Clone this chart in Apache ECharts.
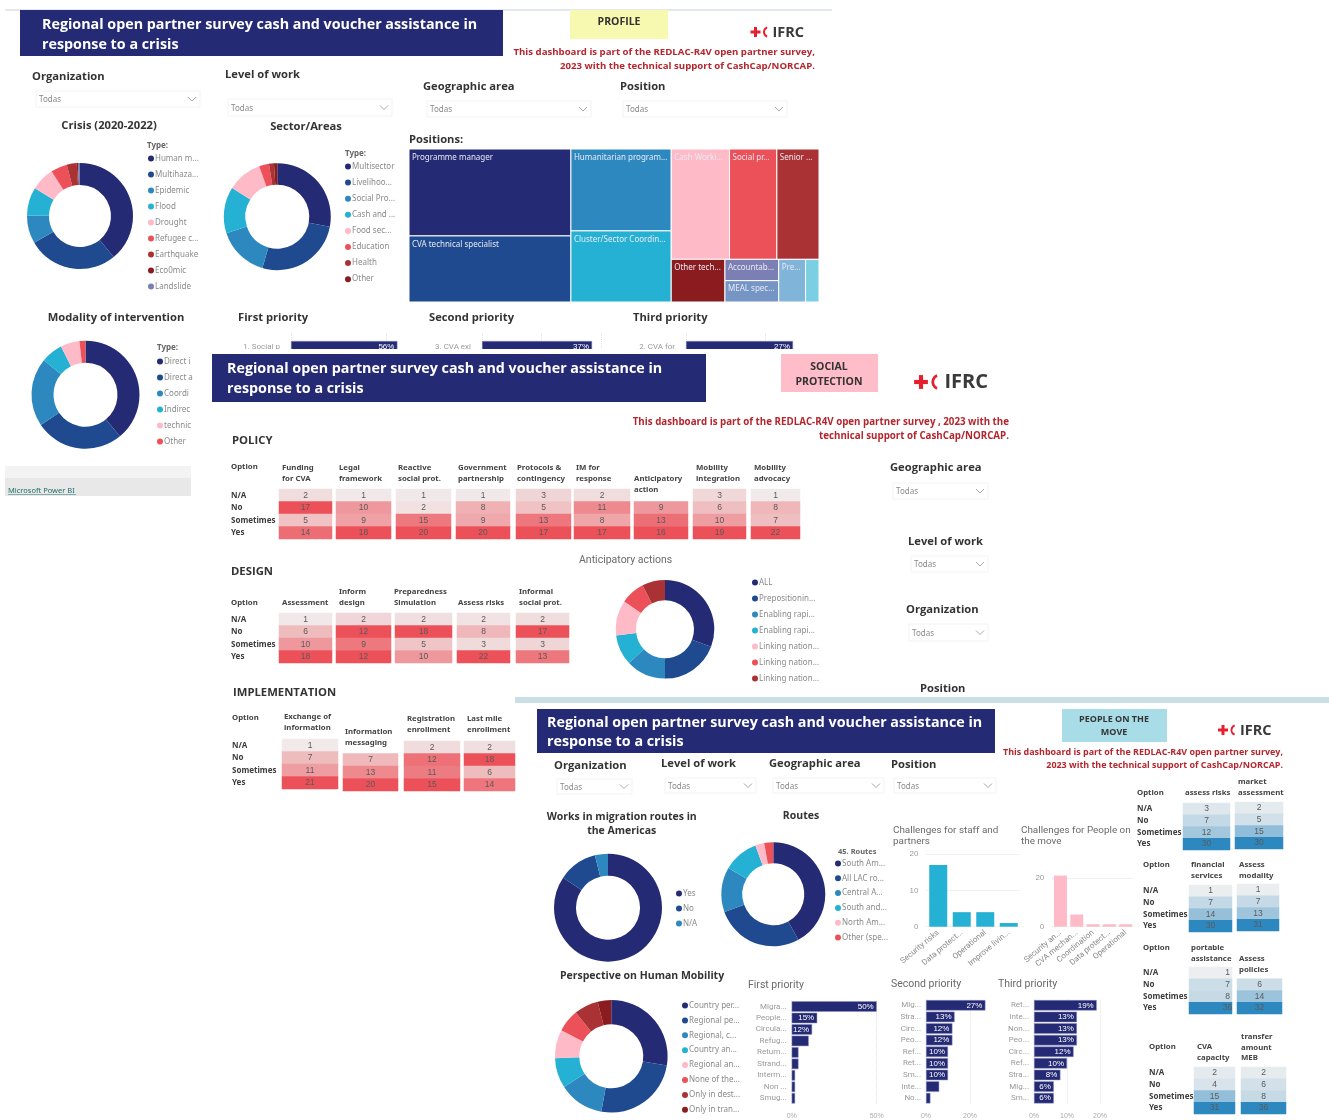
<!DOCTYPE html>
<html>
<head>
<meta charset="utf-8">
<title>Regional open partner survey</title>
<script src="https://cdn.jsdelivr.net/npm/echarts@6/dist/echarts.min.js"></script>
<style>
  html, body { margin: 0; padding: 0; background: #fff; }
  #main { width: 1329px; height: 1120px; }
</style>
</head>
<body>
<div id="main"></div>
<script>
// ---- data ----
const rowNames = ['N/A', 'No', 'Sometimes', 'Yes']

const crisisNames = ['Human m...', 'Multihaza...', 'Epidemic', 'Flood', 'Drought', 'Refugee c...', 'Earthquake', 'Eco0mic', 'Landslide']
const crisisValues = [39, 27.5, 8.6, 8.6, 7.2, 5, 3, 0.4, 0.6]
const sectorNames = ['Multisector', 'Livelihoo...', 'Social Pro...', 'Cash and ...', 'Food sec...', 'Education', 'Health', 'Other']
const sectorValues = [28, 26.5, 15.5, 14, 10.5, 3, 1.5, 1]
const modalityNames = ['Direct i', 'Direct a', 'Coordi', 'Indirec', 'technic', 'Other']
const modalityValues = [39, 26.5, 20.5, 6.5, 5.7, 1.8]
const anticipatoryNames = ['ALL', 'Prepositionin...', 'Enabling rapi...', 'Enabling rapi...', 'Linking nation...', 'Linking nation...', 'Linking nation...']
const anticipatoryValues = [30.8, 19.2, 13, 10, 11.5, 8, 7.5]
const migrationNames = ['Yes', 'No', 'N/A']
const migrationValues = [84.4, 11.7, 3.9]
const routeNames = ['South Am...', 'All LAC ro...', 'Central A...', 'South and...', 'North Am...', 'Other (spe...']
const routeValues = [42, 27.5, 13.9, 11, 2.8, 2.8]
const mobilityNames = ['Country per...', 'Regional pe...', 'Regional, c...', 'Country an...', 'Regional an...', 'None of the...', 'Only in dest...', 'Only in tran...']
const mobilityValues = [27.7, 25.3, 13, 8.7, 8.2, 6.5, 7, 3.9]

const positionNames = ['Programme manager', 'CVA technical specialist', 'Humanitarian program...', 'Cluster/Sector Coordin...', 'Cash Worki...', 'Social pr...', 'Senior ...', 'Other tech...', 'Accountab...', 'MEAL spec...', 'Pre...', '']
const positionValues = [22.1, 16.8, 12.9, 11.2, 10.1, 8.2, 7.3, 3.6, 1.8, 1.8, 1.8, 0.9]

const profileFirstNames = ['1. Social p']
const profileFirstValues = [56]
const profileSecondNames = ['3. CVA exi']
const profileSecondValues = [37]
const profileThirdNames = ['2. CVA for']
const profileThirdValues = [27]

const policyHeaders = [['Funding', 'for CVA'], ['Legal', 'framework'], ['Reactive', 'social prot.'], ['Government', 'partnership'], ['Protocols &', 'contingency'], ['IM for', 'response'], ['Anticipatory', 'action'], ['Mobility', 'integration'], ['Mobility', 'advocacy']]
const policyValues = [[2, 17, 5, 14], [1, 10, 9, 18], [1, 2, 15, 20], [1, 8, 9, 20], [3, 5, 13, 17], [2, 11, 8, 17], [null, 9, 13, 16], [3, 6, 10, 19], [1, 8, 7, 22]]
const designHeaders = [['Assessment'], ['Inform', 'design'], ['Preparedness', 'Simulation'], ['Assess risks'], ['Informal', 'social prot.']]
const designValues = [[1, 6, 10, 18], [2, 12, 9, 12], [2, 18, 5, 10], [2, 8, 3, 22], [2, 17, 3, 13]]
const implementationHeaders = [['Exchange of', 'information'], ['Information', 'messaging'], ['Registration', 'enrollment'], ['Last mile', 'enrollment']]
const implementationValues = [[1, 7, 11, 21], [null, 7, 13, 20], [2, 12, 11, 15], [2, 18, 6, 14]]

const moveHeaders = [['assess risks'], ['market', 'assessment'], ['financial', 'services'], ['Assess', 'modality'], ['portable', 'assistance'], ['Assess', 'policies'], ['CVA', 'capacity'], ['transfer', 'amount', 'MEB']]
const moveValues = [[3, 7, 12, 30], [2, 5, 15, 30], [1, 7, 14, 30], [1, 7, 13, 31], [1, 7, 8, 36], [null, 6, 14, 32], [2, 4, 15, 31], [2, 6, 8, 36]]

const staffNames = ['Security risks', 'Data protect...', 'Operational', 'Improve livin...']
const staffValues = [17, 4, 4, 1]
const peopleNames = ['Security an...', 'CVA mechan...', 'Coordination', 'Data protect...', 'Operational']
const peopleValues = [21, 5, 1, 1, 1]

const firstNames = ['Migra...', 'People...', 'Circula...', 'Refug...', 'Return...', 'Strand...', 'Interm...', 'Non ...', 'Smug...']
const firstValues = [50, 15, 12, 10, 4, 4, 2, 2, 2]
const secondNames = ['Mig...', 'Stra...', 'Circ...', 'Peo...', 'Ref...', 'Ret...', 'Sm...', 'Inte...', 'No...']
const secondValues = [27, 13, 12, 12, 10, 10, 10, 6, 2]
const thirdNames = ['Ret...', 'Inte...', 'Non...', 'Peo...', 'Circ...', 'Ref...', 'Stra...', 'Mig...', 'Sm...']
const thirdValues = [19, 13, 13, 13, 12, 10, 8, 6, 6]

// ---- colours and fonts ----
const NAVY = '#252a74'
const pieColors = [NAVY, '#1f4a8f', '#2e88c0', '#25b1d3', '#ffbac8', '#ec5159', '#ab3234', '#8a1c20', '#7b7fb3']
const tileColors = [NAVY, '#1f4a8f', '#2e88c0', '#25b1d3', '#ffbac8', '#ec5159', '#ab3234', '#8a1c20', '#7b7fb3', '#7595c4', '#80b4d8', '#7acfe3']
const RED_CELL = [236, 81, 89]
const BLUE_CELL = [46, 136, 192]
const GREY_CELL = [241, 241, 241]
const HEAD = '"Open Sans", sans-serif'
const BODY = '"Noto Sans", sans-serif'
const LIGHT = 'Roboto, sans-serif'

const graphics = []
const grids = []
const xAxes = []
const yAxes = []
const series = []
const legends = []

// ---- small drawing helpers ----
function txt (x, y, text, font, fill, align, z) {
  graphics.push({
    type: 'text',
    silent: true,
    z: z || 0,
    style: { x, y: y + 0.8, text, font, fill, align: align || 'left', verticalAlign: 'middle' }
  })
}

function box (x0, y0, x1, y1, fill, stroke, z) {
  graphics.push({
    type: 'rect',
    silent: true,
    z: z || 0,
    shape: { x: x0, y: y0, width: x1 - x0, height: y1 - y0 },
    style: { fill, stroke: stroke || null, lineWidth: 1 }
  })
}

function dropdown (label, lx, ly, x0, y0, x1, y1) {
  if (label) txt(lx, ly, label, '700 11.2px ' + HEAD, '#333')
  box(x0, y0, x1, y1, '#fff', '#f3f3f3')
  txt(x0 + 3, (y0 + y1) / 2, 'Todas', '8px ' + BODY, '#8a8a8a')
  const m = (y0 + y1) / 2
  graphics.push({
    type: 'polyline',
    silent: true,
    shape: { points: [[x1 - 12, m - 2], [x1 - 8, m + 2], [x1 - 4, m - 2]] },
    style: { stroke: '#aaa', fill: null, lineWidth: 1 }
  })
}

function logo (cx, cy, s) {
  const red = '#e5202e'
  box(cx - 5 * s, cy - 1.5 * s, cx + 5 * s, cy + 1.5 * s, red)
  box(cx - 1.5 * s, cy - 5 * s, cx + 1.5 * s, cy + 5 * s, red)
  graphics.push({
    type: 'arc',
    silent: true,
    shape: { cx: cx + 13.5 * s, cy, r: 5 * s, startAngle: Math.PI * 0.62, endAngle: Math.PI * 1.38, clockwise: true },
    style: { stroke: red, fill: null, lineWidth: 2 * s }
  })
  txt(cx + 17 * s, cy, 'IFRC', '700 ' + (14.5 * s) + 'px ' + HEAD, '#3a3a3a')
}

function banner (x0, y0, x1, y1, tx, y1Text, y2Text, z) {
  box(x0, y0, x1, y1, NAVY, null, z)
  txt(tx, y1Text, 'Regional open partner survey cash and voucher assistance in', '700 14.3px ' + HEAD, '#fff', 'left', z)
  txt(tx, y2Text, 'response to a crisis', '700 14.3px ' + HEAD, '#fff', 'left', z)
}

function redNote (x, y1, y2, line1, line2, size) {
  txt(x, y1, line1, '700 ' + size + 'px ' + HEAD, '#b4262e', 'right')
  txt(x, y2, line2, '700 ' + size + 'px ' + HEAD, '#b4262e', 'right')
}

function addGrid (left, top, width, height) {
  grids.push({ left, top, width, height, containLabel: false })
  return grids.length - 1
}

function addPie (key, names, values, cx, cy, r0, r1, lx, ly, step) {
  const ids = names.map((n, i) => n + '#' + key + '#' + i)
  series.push({
    type: 'pie',
    radius: [r0, r1],
    center: [cx, cy],
    startAngle: 90,
    silent: true,
    label: { show: false },
    labelLine: { show: false },
    data: values.map((v, i) => ({ name: ids[i], value: v, itemStyle: { color: pieColors[i] } }))
  })
  legends.push({
    orient: 'vertical',
    left: lx,
    top: ly,
    padding: 0,
    icon: 'circle',
    itemWidth: 6,
    itemHeight: 6,
    itemGap: step - 11,
    selectedMode: false,
    textStyle: { fontSize: 8, color: '#8a8a8a', fontFamily: BODY, padding: [0, 0, 0, -4], lineHeight: 11 },
    formatter: (n) => n.split('#')[0],
    data: ids
  })
}

function addBars (names, values, g, opt) {
  const i = addGrid(g[0], g[1], g[2], g[3])
  xAxes.push({
    type: 'value',
    gridIndex: i,
    min: 0,
    max: opt.max,
    interval: opt.interval,
    axisLine: { show: false },
    axisTick: { show: false },
    splitLine: { show: true, showMaxLine: opt.max % opt.interval === 0, lineStyle: { type: 'dotted', color: '#e2e2e2' } },
    axisLabel: { show: !opt.noTicks, showMaxLabel: opt.max % opt.interval === 0, formatter: '{value}%', fontSize: 7, color: '#aaa', margin: 9 }
  })
  yAxes.push({
    type: 'category',
    gridIndex: i,
    inverse: true,
    data: names,
    axisLine: { show: false },
    axisTick: { show: false },
    axisLabel: { fontSize: 8, color: '#9a9a9a', fontFamily: LIGHT, margin: opt.margin, interval: 0 }
  })
  series.push({
    type: 'bar',
    xAxisIndex: i,
    yAxisIndex: i,
    z: 1,
    silent: true,
    barWidth: opt.barWidth,
    itemStyle: { color: NAVY, borderColor: '#8d90c0', borderWidth: 0.5 },
    label: {
      show: true,
      position: 'insideRight',
      fontSize: 8,
      color: '#fff',
      distance: 3,
      formatter: (p) => (p.value >= opt.labelFrom ? p.value + '%' : '')
    },
    data: values
  })
}

function addColumn (bar, names, values, g, color) {
  const i = addGrid(g[0], g[1], g[2], g[3])
  xAxes.push({
    type: 'category',
    gridIndex: i,
    data: names,
    axisLine: { show: false },
    axisTick: { show: false },
    axisLabel: { interval: 0, rotate: 40, fontSize: 8, color: '#8a8a8a', fontFamily: LIGHT, margin: 5 }
  })
  yAxes.push({
    type: 'value',
    gridIndex: i,
    min: 0,
    max: bar.max,
    interval: bar.interval,
    axisLine: { show: false },
    axisTick: { show: false },
    splitLine: { showMaxLine: bar.max % bar.interval === 0, lineStyle: { type: 'dotted', color: '#e2e2e2' } },
    axisLabel: { showMaxLabel: bar.max % bar.interval === 0, fontSize: 8, color: '#9a9a9a', margin: 8 }
  })
  series.push({
    type: 'bar',
    xAxisIndex: i,
    yAxisIndex: i,
    silent: true,
    barWidth: bar.barWidth,
    itemStyle: { color },
    data: values
  })
}

function shade (v, max, rgb) {
  const t = v / max
  const c = GREY_CELL.map((g, k) => Math.round(g + (rgb[k] - g) * t))
  return 'rgb(' + c.join(',') + ')'
}

// one column of a conditional-format table, drawn as a heatmap on its own grid
function addCells (values, g, rgb, rowLabelX, shift) {
  const i = addGrid(g[0], g[1], g[2], g[3])
  const max = Math.max.apply(null, values)
  xAxes.push({ type: 'category', gridIndex: i, data: [''], show: false })
  yAxes.push({
    type: 'category',
    gridIndex: i,
    inverse: true,
    data: rowNames,
    axisLine: { show: false },
    axisTick: { show: false },
    splitLine: { show: false },
    axisLabel: rowLabelX === undefined
      ? { show: false }
      : { show: true, align: 'left', margin: g[0] - rowLabelX, interval: 0, fontSize: 8, fontWeight: 700, fontFamily: BODY, color: '#3c3c3c' }
  })
  const cells = []
  values.forEach((v, r) => {
    if (v !== null) cells.push({ value: [0, r, v], itemStyle: { color: shade(v, max, rgb) } })
  })
  series.push({
    type: 'heatmap',
    xAxisIndex: i,
    yAxisIndex: i,
    silent: true,
    label: {
      show: true,
      fontSize: 8.5,
      color: '#5a5a5a',
      textBorderWidth: 0,
      offset: [shift || 0, 0],
      formatter: (p) => p.value[2]
    },
    data: cells
  })
}

function headerLines (lines, x, y, gap) {
  lines.forEach((l, i) => txt(x, y + i * gap, l, '700 7.8px ' + BODY, '#444'))
}

// slice-and-dice tiles for the Positions treemap, sized from positionValues
const tileTree = ['h', ['v', 0, 1], ['v', 2, 3], ['v', ['h', 4, 5, 6], ['h', 7, ['v', 8, 9], 10, 11]]]

function nodeSum (n) {
  if (typeof n === 'number') return positionValues[n]
  return n.slice(1).reduce((s, c) => s + nodeSum(c), 0)
}

function sliceTiles (n, x0, y0, x1, y1, out) {
  if (typeof n === 'number') {
    out.push([x0, y0, x1, y1, n])
    return
  }
  const total = nodeSum(n)
  let pos = n[0] === 'h' ? x0 : y0
  n.slice(1).forEach((c) => {
    const size = nodeSum(c) / total * (n[0] === 'h' ? x1 - x0 : y1 - y0)
    if (n[0] === 'h') sliceTiles(c, pos, y0, pos + size, y1, out)
    else sliceTiles(c, x0, pos, x1, pos + size, out)
    pos += size
  })
}

function addPositionTiles () {
  const tiles = []
  sliceTiles(tileTree, 0, 0, 1, 1, tiles)
  const i = addGrid(409, 149, 410, 153)
  xAxes.push({ type: 'value', gridIndex: i, min: 0, max: 1, show: false })
  yAxes.push({ type: 'value', gridIndex: i, min: 0, max: 1, inverse: true, show: false })
  series.push({
    type: 'custom',
    xAxisIndex: i,
    yAxisIndex: i,
    silent: true,
    data: tiles,
    encode: { x: [0, 2], y: [1, 3] },
    renderItem: function (params, api) {
      const a = api.coord([api.value(0), api.value(1)])
      const b = api.coord([api.value(2), api.value(3)])
      const idx = api.value(4)
      return {
        type: 'group',
        children: [
          {
            type: 'rect',
            shape: { x: a[0], y: a[1], width: b[0] - a[0], height: b[1] - a[1] },
            style: { fill: tileColors[idx], stroke: '#fff', lineWidth: 1 }
          },
          {
            type: 'text',
            style: { x: a[0] + 3, y: a[1] + 8.5, text: positionNames[idx], fill: '#e8e8f4', font: '8px ' + BODY, verticalAlign: 'middle' }
          }
        ]
      }
    }
  })
}

// ---- panel 1: profile ----
box(5, 9.5, 832, 10.5, '#c6d2dc')
banner(20, 10, 503, 56, 42, 24, 44)
box(570, 10, 668, 39, '#f7f9b0')
txt(619, 21, 'PROFILE', '700 10.5px ' + HEAD, '#333', 'center')
logo(755.5, 32, 1)
redNote(815, 51, 65, 'This dashboard is part of the REDLAC-R4V open partner survey,', '2023 with the technical support of CashCap/NORCAP.', 9.65)

dropdown('Organization', 32, 76, 36, 91, 200, 107)
dropdown('Level of work', 225, 74, 228, 99, 392, 116)
dropdown('Geographic area', 423, 86, 427, 101, 591, 117)
dropdown('Position', 620, 86, 623, 101, 787, 117)

txt(109, 125, 'Crisis (2020-2022)', '700 11.2px ' + HEAD, '#333', 'center')
txt(306, 126, 'Sector/Areas', '700 11.2px ' + HEAD, '#333', 'center')
txt(409, 139, 'Positions:', '700 11.2px ' + HEAD, '#333')
txt(147, 145, 'Type:', '700 8px ' + BODY, '#666')
txt(345, 153, 'Type:', '700 8px ' + BODY, '#666')
txt(157, 347, 'Type:', '700 8px ' + BODY, '#666')

addPie('crisis', crisisNames, crisisValues, 80, 216, 31, 53, 148, 153, 16)
addPie('sector', sectorNames, sectorValues, 277.3, 216.7, 32, 53.5, 345, 161, 16.1)
addPie('modality', modalityNames, modalityValues, 85.5, 394.7, 32, 54, 157, 356, 16)
addPositionTiles()

txt(116, 317, 'Modality of intervention', '700 11.2px ' + HEAD, '#333', 'center')
txt(238, 317, 'First priority', '700 11.2px ' + HEAD, '#333')
txt(429, 317, 'Second priority', '700 11.2px ' + HEAD, '#333')
txt(633, 317, 'Third priority', '700 11.2px ' + HEAD, '#333')

addBars(profileFirstNames, profileFirstValues, [291, 333, 106.4, 28], { max: 56, interval: 50, barWidth: 12, labelFrom: 0, margin: 11, noTicks: true })
addBars(profileSecondNames, profileSecondValues, [482, 333, 119, 28], { max: 40, interval: 20, barWidth: 12, labelFrom: 0, margin: 11, noTicks: true })
addBars(profileThirdNames, profileThirdValues, [686, 333, 107, 28], { max: 27, interval: 20, barWidth: 12, labelFrom: 0, margin: 11, noTicks: true })

// footer of the first embed, and the sheet laid over the clipped bars
box(5, 466, 191, 478, '#f3f3f3')
box(5, 478, 191, 496, '#e8e8e8')
txt(8, 490.5, 'Microsoft Power BI', '7.5px ' + BODY, '#1f6f6a')
box(8, 494.5, 76, 495, '#1f6f6a')
box(191, 349, 1329, 362, '#fff', null, 6)

// ---- panel 2: social protection ----
banner(212, 354, 706, 402, 227, 368, 388, 7)
box(781, 354, 878, 392, '#ffbcc9', null, 7)
txt(829, 366, 'SOCIAL', '700 10.5px ' + HEAD, '#333', 'center', 7)
txt(829, 381, 'PROTECTION', '700 10.5px ' + HEAD, '#333', 'center', 7)
logo(921, 382, 1.38)
redNote(1009, 421, 435, 'This dashboard is part of the REDLAC-R4V open partner survey , 2023 with the', 'technical support of CashCap/NORCAP.', 9.75)

txt(232, 440, 'POLICY', '700 11.3px ' + HEAD, '#333')
txt(231, 466, 'Option', '700 7.8px ' + BODY, '#444')
const policyCols = [[279, 53], [336, 55], [396, 55], [456, 54], [516, 55], [574, 56], [634, 54], [693, 53], [751, 49]]
const policyHeadAt = [[282, 466.5], [339, 466.5], [398, 466.5], [458, 466.5], [517, 466.5], [576, 466.5], [634, 478], [696, 466.5], [754, 466.5]]
policyValues.forEach((vals, c) => {
  addCells(vals, [policyCols[c][0], 489, policyCols[c][1], 50], RED_CELL, c === 0 ? 231 : undefined)
  headerLines(policyHeaders[c], policyHeadAt[c][0], policyHeadAt[c][1], 11)
})

txt(231, 571, 'DESIGN', '700 11.3px ' + HEAD, '#333')
txt(231, 602, 'Option', '700 7.8px ' + BODY, '#444')
const designCols = [[279, 53], [336, 55], [395, 57], [457, 53], [516, 53]]
const designHeadAt = [[282, 602], [339, 591], [394, 591], [458, 602], [519, 591]]
designValues.forEach((vals, c) => {
  addCells(vals, [designCols[c][0], 613, designCols[c][1], 50], RED_CELL, c === 0 ? 231 : undefined)
  headerLines(designHeaders[c], designHeadAt[c][0], designHeadAt[c][1], 11)
})

txt(233, 692, 'IMPLEMENTATION', '700 11.3px ' + HEAD, '#333')
txt(232, 717, 'Option', '700 7.8px ' + BODY, '#444')
const implementationCols = [[282, 739, 56], [343, 741, 55], [404, 741, 56], [464, 741, 51]]
const implementationHeadAt = [[284, 716], [345, 731], [407, 718], [467, 718]]
implementationValues.forEach((vals, c) => {
  addCells(vals, [implementationCols[c][0], implementationCols[c][1], implementationCols[c][2], 50], RED_CELL, c === 0 ? 232 : undefined)
  headerLines(implementationHeaders[c], implementationHeadAt[c][0], implementationHeadAt[c][1], 11)
})

txt(579, 560, 'Anticipatory actions', '10.5px ' + LIGHT, '#6a6a6a')
addPie('anticipatory', anticipatoryNames, anticipatoryValues, 665, 629.3, 29, 49.3, 752, 577, 16)

dropdown('Geographic area', 890, 467.5, 893, 483, 988, 499)
dropdown('Level of work', 908, 541, 911, 556, 988, 572)
dropdown('Organization', 906, 609, 909, 624, 988, 641)
txt(920, 688, 'Position', '700 11.2px ' + HEAD, '#333')

// ---- panel 3: people on the move ----
box(515, 697, 1329, 1120, '#fff')
box(515, 697, 1329, 703, '#c8e0e4')
banner(537, 709, 995, 753, 547, 722, 741)
box(1062, 709, 1167, 742, '#a8dde8')
txt(1114, 719, 'PEOPLE ON THE', '700 9px ' + HEAD, '#333', 'center')
txt(1114, 732, 'MOVE', '700 9px ' + HEAD, '#333', 'center')
logo(1223, 730, 1)
redNote(1283, 752, 765, 'This dashboard is part of the REDLAC-R4V open partner survey,', '2023 with the technical support of CashCap/NORCAP.', 8.95)

dropdown('Organization', 554, 765, 557, 779, 632, 794)
dropdown('Level of work', 661, 763, 665, 778, 756, 793)
dropdown('Geographic area', 769, 763, 773, 778, 884, 793)
dropdown('Position', 891, 764, 894, 778, 996, 793)

txt(621.7, 816, 'Works in migration routes in', '700 10.5px ' + HEAD, '#333', 'center')
txt(621.7, 830, 'the Americas', '700 10.5px ' + HEAD, '#333', 'center')
txt(801, 815, 'Routes', '700 10.5px ' + HEAD, '#333', 'center')
txt(838, 851, '45. Routes', '700 7.5px ' + BODY, '#666')
addPie('migration', migrationNames, migrationValues, 608, 907.7, 32, 54, 676, 888, 15)
addPie('routes', routeNames, routeValues, 773.3, 894.3, 31, 52, 835, 858, 14.8)

txt(893, 830, 'Challenges for staff and', '9.9px ' + LIGHT, '#6a6a6a')
txt(893, 841, 'partners', '9.9px ' + LIGHT, '#6a6a6a')
txt(1021, 830, 'Challenges for People on', '9.9px ' + LIGHT, '#6a6a6a')
txt(1021, 841, 'the move', '9.9px ' + LIGHT, '#6a6a6a')
addColumn({ max: 20, interval: 10, barWidth: 18 }, staffNames, staffValues, [926.5, 854, 94, 72.7], '#25b1d3')
addColumn({ max: 21, interval: 20, barWidth: 13 }, peopleNames, peopleValues, [1052.3, 875.6, 81.5, 51.1], '#ffbac8')

txt(642, 975, 'Perspective on Human Mobility', '700 10.5px ' + HEAD, '#333', 'center')
addPie('mobility', mobilityNames, mobilityValues, 611.3, 1056.3, 32, 56.3, 682, 1000, 14.9)

txt(748, 985, 'First priority', '10.5px ' + LIGHT, '#6a6a6a')
txt(891, 984, 'Second priority', '10.5px ' + LIGHT, '#6a6a6a')
txt(998, 984, 'Third priority', '10.5px ' + LIGHT, '#6a6a6a')
addBars(firstNames, firstValues, [791.7, 1000.8, 85, 111.6], { max: 50, interval: 50, barWidth: 10.5, labelFrom: 12, margin: 5 })
addBars(secondNames, secondValues, [926, 999.5, 61.6, 111.6], { max: 28, interval: 20, barWidth: 10.5, labelFrom: 10, margin: 5 })
addBars(thirdNames, thirdValues, [1034, 999.5, 66, 111.6], { max: 20, interval: 10, barWidth: 10.5, labelFrom: 6, margin: 5 })

// option blocks down the right edge
const moveCols = [[1183, 803, 47], [1235, 802, 48], [1189, 885, 43], [1237, 884, 42], [1189, 967, 43], [1237, 967, 45], [1194, 1067, 41], [1241, 1067, 45]]
const moveHeadAt = [[1185, 792], [1238, 781], [1191, 864], [1239, 864], [1191, 947], [1239, 958], [1197, 1046], [1241, 1036]]
const moveRowLabels = { 0: 1137, 2: 1143, 4: 1143, 6: 1149 }
const moveOptionAt = [[1137, 792], [1143, 864], [1143, 947], [1149, 1046]]
moveOptionAt.forEach((p) => txt(p[0], p[1], 'Option', '700 7.8px ' + BODY, '#444'))
moveValues.forEach((vals, c) => {
  addCells(vals, [moveCols[c][0], moveCols[c][1], moveCols[c][2], 47], BLUE_CELL, moveRowLabels[c], c === 4 ? 17 : 0)
  headerLines(moveHeaders[c], moveHeadAt[c][0], moveHeadAt[c][1], 10.5)
})

const myChart = echarts.init(document.getElementById('main'))
myChart.setOption({
  animation: false,
  backgroundColor: '#fff',
  tooltip: { show: false },
  graphic: { elements: graphics },
  legend: legends,
  grid: grids,
  xAxis: xAxes,
  yAxis: yAxes,
  series: series
})
</script>
</body>
</html>
